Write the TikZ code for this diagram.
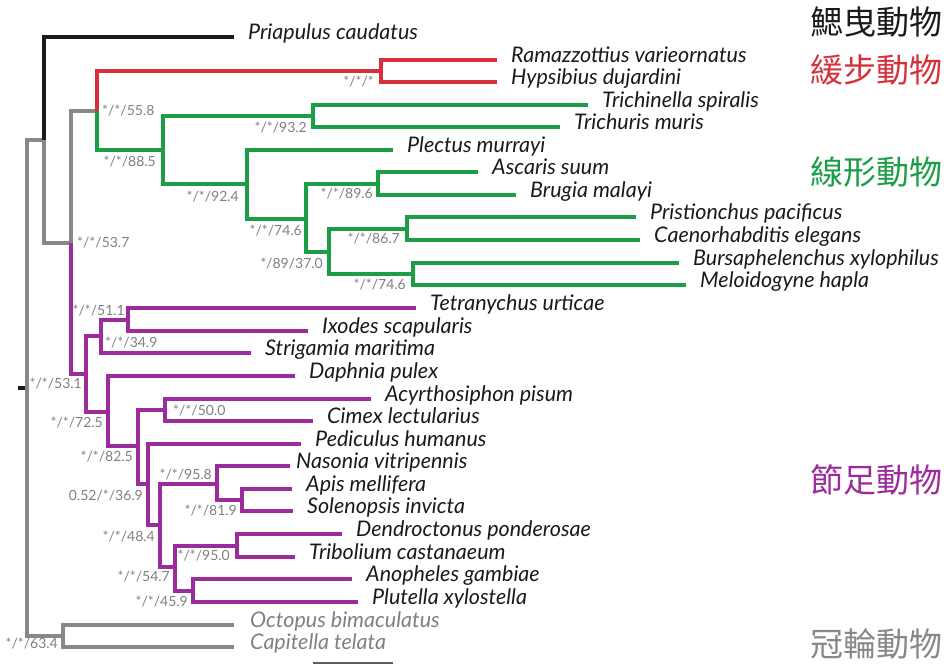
\documentclass[tikz,border=0pt]{standalone}
\usepackage{fontspec}
\setmainfont{Lato}
\newfontfamily\cjk{Noto Sans CJK TC}
\usepackage{tikz}
\definecolor{TreeInk}{HTML}{1A1A1A}
\definecolor{OutGray}{HTML}{888888}
\definecolor{TardiRed}{HTML}{D8303B}
\definecolor{NemaGreen}{HTML}{1C9E46}
\definecolor{ArthroPurple}{HTML}{9C2C9B}
\definecolor{SupportGray}{HTML}{808080}

\begin{document}
\begin{tikzpicture}[
  x=1pt,y=-1pt,
  branch/.style={line width=3.2pt},
  taxon/.style={anchor=west,font=\fontsize{21.5}{24}\selectfont\itshape,text=TreeInk,
                inner xsep=14pt,inner ysep=0pt,text height=0.7em,text depth=0.25em},
  support/.style={font=\fontsize{14}{16}\selectfont,text=SupportGray,inner sep=0pt},
  clade/.style={anchor=east,font=\cjk\fontsize{33}{36}\selectfont,inner sep=0pt},
]
  \useasboundingbox (0,0) rectangle (949,664);

  % internal nodes
  \coordinate (stub) at (18,388);
  \coordinate (root) at (27,388);
  \coordinate (ecdy) at (44,140);
  \coordinate (core) at (71,243);
  \coordinate (tanem) at (97,111);
  \coordinate (tardi) at (381,71);
  \coordinate (nem1) at (163,150);
  \coordinate (nem2) at (313,116);
  \coordinate (nem3) at (247,184);
  \coordinate (nem4) at (306,219);
  \coordinate (nem5) at (378,184);
  \coordinate (nem6) at (329,252);
  \coordinate (nem7) at (407,229);
  \coordinate (nem8) at (413,274);
  \coordinate (art1) at (86,374);
  \coordinate (art2) at (101,336);
  \coordinate (art3) at (128,320);
  \coordinate (art4) at (108,412);
  \coordinate (art5) at (138,446);
  \coordinate (art6) at (165,410);
  \coordinate (art7) at (148,484);
  \coordinate (art8) at (160,525);
  \coordinate (art9) at (217,484);
  \coordinate (art10) at (242,500);
  \coordinate (art11) at (175,567);
  \coordinate (art12) at (237,546);
  \coordinate (art13) at (193,591);
  \coordinate (loph) at (63,636);

  % taxa
  \node[taxon] (pcau) at (234,37) {Priapulus caudatus};
  \node[taxon] (rvar) at (497,60) {Ramazzottius varieornatus};
  \node[taxon] (hduj) at (497,82) {Hypsibius dujardini};
  \node[taxon] (tspi) at (588,105) {Trichinella spiralis};
  \node[taxon] (tmur) at (560,127) {Trichuris muris};
  \node[taxon] (pmur) at (393,150) {Plectus murrayi};
  \node[taxon] (asuu) at (478,172) {Ascaris suum};
  \node[taxon] (bmal) at (516,195) {Brugia malayi};
  \node[taxon] (ppac) at (636,217) {Pristionchus pacificus};
  \node[taxon] (cele) at (640,240) {Caenorhabditis elegans};
  \node[taxon] (bxyl) at (679,263) {Bursaphelenchus xylophilus};
  \node[taxon] (mhap) at (686,285) {Meloidogyne hapla};
  \node[taxon] (turt) at (416,308) {Tetranychus urticae};
  \node[taxon] (isca) at (308,331) {Ixodes scapularis};
  \node[taxon] (smar) at (251,353) {Strigamia maritima};
  \node[taxon] (dpul) at (295,376) {Daphnia pulex};
  \node[taxon] (apis) at (371,399) {Acyrthosiphon pisum};
  \node[taxon] (clec) at (313,421) {Cimex lectularius};
  \node[taxon] (phum) at (301,444) {Pediculus humanus};
  \node[taxon,inner xsep=6pt] (nvit) at (290,466) {Nasonia vitripennis};
  \node[taxon] (amel) at (292,489) {Apis mellifera};
  \node[taxon] (sinv) at (293,511) {Solenopsis invicta};
  \node[taxon] (dpon) at (342,534) {Dendroctonus ponderosae};
  \node[taxon] (tcas) at (295,557) {Tribolium castanaeum};
  \node[taxon] (agam) at (352,579) {Anopheles gambiae};
  \node[taxon] (pxyl) at (358,602) {Plutella xylostella};
  \node[taxon,text=SupportGray,inner xsep=16pt] (obim) at (234,625) {Octopus bimaculatus};
  \node[taxon,text=SupportGray,inner xsep=16pt] (ctel) at (234,647) {Capitella telata};

  % branches
  \draw[branch,TreeInk] (stub) -- (root);
  \draw[branch,OutGray] (root) |- (ecdy);
  \draw[branch,OutGray] (root) |- (loph);
  \draw[branch,TreeInk] (ecdy) |- (pcau);
  \draw[branch,OutGray] (ecdy) |- (core);
  \draw[branch,OutGray] (core) |- (tanem);
  \draw[branch,ArthroPurple] (core) |- (art1);
  \draw[branch,TardiRed] (tanem) |- (tardi);
  \draw[branch,TardiRed] (tardi) |- (rvar);
  \draw[branch,TardiRed] (tardi) |- (hduj);
  \draw[branch,NemaGreen] (tanem) |- (nem1);
  \draw[branch,NemaGreen] (nem1) |- (nem2);
  \draw[branch,NemaGreen] (nem1) |- (nem3);
  \draw[branch,NemaGreen] (nem2) |- (tspi);
  \draw[branch,NemaGreen] (nem2) |- (tmur);
  \draw[branch,NemaGreen] (nem3) |- (pmur);
  \draw[branch,NemaGreen] (nem3) |- (nem4);
  \draw[branch,NemaGreen] (nem4) |- (nem5);
  \draw[branch,NemaGreen] (nem4) |- (nem6);
  \draw[branch,NemaGreen] (nem5) |- (asuu);
  \draw[branch,NemaGreen] (nem5) |- (bmal);
  \draw[branch,NemaGreen] (nem6) |- (nem7);
  \draw[branch,NemaGreen] (nem6) |- (nem8);
  \draw[branch,NemaGreen] (nem7) |- (ppac);
  \draw[branch,NemaGreen] (nem7) |- (cele);
  \draw[branch,NemaGreen] (nem8) |- (bxyl);
  \draw[branch,NemaGreen] (nem8) |- (mhap);
  \draw[branch,ArthroPurple] (art1) |- (art2);
  \draw[branch,ArthroPurple] (art1) |- (art4);
  \draw[branch,ArthroPurple] (art2) |- (art3);
  \draw[branch,ArthroPurple] (art2) |- (smar);
  \draw[branch,ArthroPurple] (art3) |- (turt);
  \draw[branch,ArthroPurple] (art3) |- (isca);
  \draw[branch,ArthroPurple] (art4) |- (dpul);
  \draw[branch,ArthroPurple] (art4) |- (art5);
  \draw[branch,ArthroPurple] (art5) |- (art6);
  \draw[branch,ArthroPurple] (art5) |- (art7);
  \draw[branch,ArthroPurple] (art6) |- (apis);
  \draw[branch,ArthroPurple] (art6) |- (clec);
  \draw[branch,ArthroPurple] (art7) |- (phum);
  \draw[branch,ArthroPurple] (art7) |- (art8);
  \draw[branch,ArthroPurple] (art8) |- (art9);
  \draw[branch,ArthroPurple] (art8) |- (art11);
  \draw[branch,ArthroPurple] (art9) |- (nvit);
  \draw[branch,ArthroPurple] (art9) |- (art10);
  \draw[branch,ArthroPurple] (art10) |- (amel);
  \draw[branch,ArthroPurple] (art10) |- (sinv);
  \draw[branch,ArthroPurple] (art11) |- (art12);
  \draw[branch,ArthroPurple] (art11) |- (art13);
  \draw[branch,ArthroPurple] (art12) |- (dpon);
  \draw[branch,ArthroPurple] (art12) |- (tcas);
  \draw[branch,ArthroPurple] (art13) |- (agam);
  \draw[branch,ArthroPurple] (art13) |- (pxyl);
  \draw[branch,OutGray] (loph) |- (obim);
  \draw[branch,OutGray] (loph) |- (ctel);

  % support values
  \node[support,anchor=west] (s-tanem) at (102,111) {*/*/55.8};
  \node[support,anchor=west] (s-core) at (77,243) {*/*/53.7};
  \node[support,anchor=east] (s-tardi) at (374,82) {*/*/*};
  \node[support,anchor=east] (s-nem1) at (156,162) {*/*/88.5};
  \node[support,anchor=east] (s-nem2) at (307,128) {*/*/93.2};
  \node[support,anchor=east] (s-nem3) at (239,197) {*/*/92.4};
  \node[support,anchor=east] (s-nem4) at (302,231) {*/*/74.6};
  \node[support,anchor=east] (s-nem5) at (373,194) {*/*/89.6};
  \node[support,anchor=east] (s-nem6) at (323,264) {*/89/37.0};
  \node[support,anchor=east] (s-nem7) at (400,239) {*/*/86.7};
  \node[support,anchor=east] (s-nem8) at (406,285) {*/*/74.6};
  \node[support,anchor=east] (s-art1) at (82,384) {*/*/53.1};
  \node[support,anchor=west] (s-art2) at (105,343) {*/*/34.9};
  \node[support,anchor=east] (s-art3) at (125,311) {*/*/51.1};
  \node[support,anchor=east] (s-art4) at (103,423) {*/*/72.5};
  \node[support,anchor=east] (s-art5) at (133,457) {*/*/82.5};
  \node[support,anchor=west] (s-art6) at (173,411) {*/*/50.0};
  \node[support,anchor=east] (s-art7) at (143,496) {0.52/*/36.9};
  \node[support,anchor=east] (s-art8) at (155,537) {*/*/48.4};
  \node[support,anchor=east] (s-art9) at (212,475) {*/*/95.8};
  \node[support,anchor=east] (s-art10) at (237,511) {*/*/81.9};
  \node[support,anchor=east] (s-art11) at (170,577) {*/*/54.7};
  \node[support,anchor=east] (s-art12) at (230,556) {*/*/95.0};
  \node[support,anchor=east] (s-art13) at (188,602) {*/*/45.9};
  \node[support,anchor=east] (s-loph) at (58,644) {*/*/63.4};

  % clade names
  \node[clade,text=TreeInk] (priap) at (943,22) {鰓曳動物};
  \node[clade,text=TardiRed] (tard) at (943,70) {緩步動物};
  \node[clade,text=NemaGreen] (nema) at (943,172) {線形動物};
  \node[clade,text=ArthroPurple] (arth) at (943,480) {節足動物};
  \node[clade,text=OutGray] (lopho) at (943,644) {冠輪動物};

  % scale bar
  \coordinate (bar0) at (313,663);
  \coordinate (bar1) at (393,663);
  \draw[line width=1.5pt,TreeInk!70] (bar0) -- (bar1);
\end{tikzpicture}
\end{document}
